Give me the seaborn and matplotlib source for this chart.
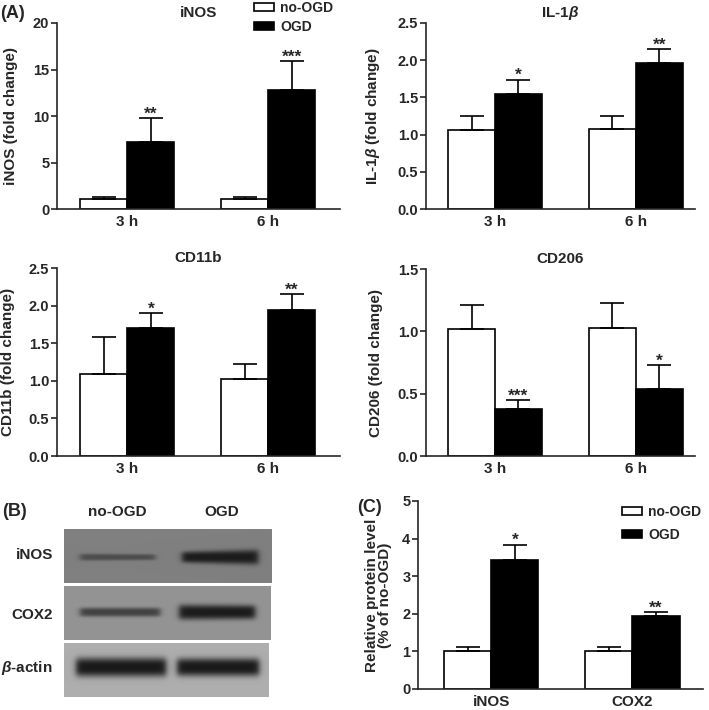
import matplotlib
matplotlib.use("Agg")
import matplotlib.pyplot as plt
from matplotlib.patches import Patch
import seaborn as sns
import numpy as np
import pandas as pd

# ---- data ----
times = ["3 h", "6 h"]
conditions = ["no-OGD", "OGD"]

inos_no = [1.05, 1.05]
inos_no_err = [0.20, 0.20]
inos_ogd = [7.2, 12.75]
inos_ogd_err = [2.55, 3.15]
inos_stars = ["**", "***"]

il1b_no = [1.06, 1.07]
il1b_no_err = [0.19, 0.18]
il1b_ogd = [1.54, 1.96]
il1b_ogd_err = [0.20, 0.19]
il1b_stars = ["*", "**"]

cd11b_no = [1.09, 1.02]
cd11b_no_err = [0.49, 0.20]
cd11b_ogd = [1.70, 1.94]
cd11b_ogd_err = [0.20, 0.21]
cd11b_stars = ["*", "**"]

cd206_no = [1.02, 1.03]
cd206_no_err = [0.19, 0.20]
cd206_ogd = [0.38, 0.54]
cd206_ogd_err = [0.07, 0.19]
cd206_stars = ["***", "*"]

proteins = ["iNOS", "COX2"]
prot_no = [1.0, 1.0]
prot_no_err = [0.13, 0.11]
prot_ogd = [3.42, 1.95]
prot_ogd_err = [0.42, 0.09]
prot_stars = ["*", "**"]

blot_rows = ["iNOS", "COX2", r"$\mathbfit{\beta}$-actin"]

sns.set_style("ticks")
plt.rcParams["font.family"] = ["Liberation Sans", "DejaVu Sans"]
plt.rcParams["font.weight"] = "bold"
plt.rcParams["axes.labelweight"] = "bold"
plt.rcParams["axes.titleweight"] = "bold"
plt.rcParams["mathtext.fontset"] = "custom"
plt.rcParams["mathtext.bfit"] = "Liberation Sans:bold:italic"
plt.rcParams["mathtext.bf"] = "Liberation Sans:bold"
plt.rcParams["mathtext.rm"] = "Liberation Sans:bold"

W, H = 709, 710
fig = plt.figure(figsize=(W / 100, H / 100), dpi=100)
palette = {"no-OGD": "white", "OGD": "black"}
LW = 1.2


def px_axes(left, top, right, bottom):
    return fig.add_axes([left / W, 1 - bottom / H, (right - left) / W, (bottom - top) / H])


def bar_panel(ax, cats, no, no_err, ogd, ogd_err, stars, ylim, ticks, fmt, ylabel, title, labx, xlim):
    df = pd.DataFrame({
        "cat": cats + cats,
        "cond": ["no-OGD"] * len(cats) + ["OGD"] * len(cats),
        "value": no + ogd,
    })
    sns.barplot(data=df, x="cat", y="value", hue="cond", hue_order=conditions,
                palette=palette, edgecolor="black", linewidth=LW, width=0.667,
                errorbar=None, legend=False, ax=ax)
    errs = no_err + ogd_err
    xs = [p.get_x() + p.get_width() / 2 for p in ax.patches]
    ys = [p.get_height() for p in ax.patches]
    ax.errorbar(xs, ys, yerr=[[0] * len(errs), errs], fmt="none", ecolor="black",
                elinewidth=LW, capsize=8.5, capthick=LW, zorder=3)
    for x, y, e, s in zip(xs[len(cats):], ys[len(cats):], ogd_err, stars):
        ax.annotate(s, (x, y + e), xytext=(0, -2.5), textcoords="offset points",
                    ha="center", va="bottom", fontsize=12.5, fontweight="bold")
    ax.set_ylim(*ylim)
    ax.set_xlim(*xlim)
    ax.set_yticks(ticks)
    ax.yaxis.set_major_formatter(matplotlib.ticker.FormatStrFormatter(fmt))
    sns.despine(ax=ax)
    for sp in ax.spines.values():
        sp.set_linewidth(LW)
    ax.tick_params(axis="y", length=4, width=LW, labelsize=10.5, pad=1.5)
    ax.tick_params(axis="x", length=0, labelsize=11, pad=4)
    for lab in ax.get_xticklabels() + ax.get_yticklabels():
        lab.set_fontweight("bold")
    ax.set_xlabel("")
    ax.set_ylabel(ylabel, fontsize=11)
    ax.yaxis.set_label_coords(labx, 0.5)
    if title:
        ax.set_title(title, fontsize=11, pad=4)


ax1 = px_axes(57, 23, 340, 209)
bar_panel(ax1, times, inos_no, inos_no_err, inos_ogd, inos_ogd_err, inos_stars,
          (0, 20), [0, 5, 10, 15, 20], "%d", "iNOS (fold change)", "iNOS", -0.138, (-0.5, 1.51))

ax2 = px_axes(426, 23, 695, 209)
bar_panel(ax2, times, il1b_no, il1b_no_err, il1b_ogd, il1b_ogd_err, il1b_stars,
          (0, 2.5), [0, 0.5, 1.0, 1.5, 2.0, 2.5], "%.1f", r"IL-1$\mathbfit{\beta}$ (fold change)",
          r"IL-1$\mathbfit{\beta}$", -0.164, (-0.49, 1.42))

ax3 = px_axes(57, 268, 340, 456)
bar_panel(ax3, times, cd11b_no, cd11b_no_err, cd11b_ogd, cd11b_ogd_err, cd11b_stars,
          (0, 2.5), [0, 0.5, 1.0, 1.5, 2.0, 2.5], "%.1f", "CD11b (fold change)", "CD11b",
          -0.148, (-0.5, 1.51))

ax4 = px_axes(426, 269, 695, 456)
bar_panel(ax4, times, cd206_no, cd206_no_err, cd206_ogd, cd206_ogd_err, cd206_stars,
          (0, 1.5), [0, 0.5, 1.0, 1.5], "%.1f", "CD206 (fold change)", "CD206",
          -0.16, (-0.49, 1.42))

ax5 = px_axes(418, 501, 703, 689)
bar_panel(ax5, proteins, prot_no, prot_no_err, prot_ogd, prot_ogd_err, prot_stars,
          (0, 5), [0, 1, 2, 3, 4, 5], "%d", "Relative protein level\n(% of no-OGD)", None,
          -0.09, (-0.52, 1.5))
ax5.yaxis.label.set_linespacing(0.95)

handles = [Patch(facecolor="white", edgecolor="black", linewidth=LW, label="no-OGD"),
           Patch(facecolor="black", edgecolor="black", linewidth=LW, label="OGD")]
leg_kw = dict(frameon=False, borderpad=0, borderaxespad=0, handlelength=1.45, handleheight=0.55,
              handletextpad=0.45, prop={"size": 10, "weight": "bold"})
fig.legend(handles=handles, loc="upper left", bbox_to_anchor=(254 / W, 1 - 1 / H),
           labelspacing=0.35, **leg_kw)
fig.legend(handles=handles, loc="upper left", bbox_to_anchor=(622 / W, 1 - 505 / H),
           labelspacing=0.65, **leg_kw)

# ---- western blot (B), drawn in pixel coordinates ----
ov = fig.add_axes([0, 0, 1, 1], zorder=-1)
ov.set_xlim(0, W)
ov.set_ylim(H, 0)
ov.axis("off")
ov.patch.set_alpha(0)

# strip: (x0, y0, x1, y1, background, bands[(bx0, bx1, yc, half_l, half_r, level)])
strips = [
    (64, 529, 272, 583, 0.50, [(16, 91, 28, 3.5, 3.0, 0.30), (118, 194, 28, 5.5, 7.5, 0.11)]),
    (64, 586, 271, 640, 0.58, [(16, 96, 26, 4.5, 4.5, 0.26), (115, 191, 26, 7.5, 7.0, 0.11)]),
    (64, 643, 269, 697, 0.68, [(12, 102, 24, 9.5, 9.5, 0.10), (113, 195, 24, 9.0, 9.0, 0.10)]),
]
sc = 3
for x0, y0, x1, y1, bg, bands in strips:
    w, h = x1 - x0, y1 - y0
    xx, yy = np.meshgrid(np.arange(w * sc) / sc, np.arange(h * sc) / sc)
    img = np.full(xx.shape, bg)
    for bx0, bx1, yc, hl, hr, lev in bands:
        t = np.clip((xx - bx0) / (bx1 - bx0), 0, 1)
        half = hl + (hr - hl) * t
        hprof = 0.5 * (np.tanh((xx - bx0) / 3.5) - np.tanh((xx - bx1) / 3.5))
        vprof = np.exp(-np.abs((yy - yc) / half) ** 3)
        img = img - (bg - lev) * hprof * vprof
    ov.imshow(img, cmap="gray", vmin=0, vmax=1, extent=(x0, x1, y1, y0),
              origin="upper", aspect="auto", interpolation="bilinear")

ov.text(117, 512, "no-OGD", ha="center", va="center", fontsize=11, fontweight="bold")
ov.text(222, 512, "OGD", ha="center", va="center", fontsize=11, fontweight="bold")
for lab, yc in zip(blot_rows, [555, 615, 668]):
    ov.text(53, yc, lab, ha="right", va="center", fontsize=11, fontweight="bold")

ov.text(0, 13, "(A)", ha="left", va="center", fontsize=13, fontweight="bold")
ov.text(2, 512, "(B)", ha="left", va="center", fontsize=13, fontweight="bold")
ov.text(357, 507, "(C)", ha="left", va="center", fontsize=13, fontweight="bold")
ov.set_xlim(0, W)
ov.set_ylim(H, 0)

fig.savefig("out.png", dpi=100)
